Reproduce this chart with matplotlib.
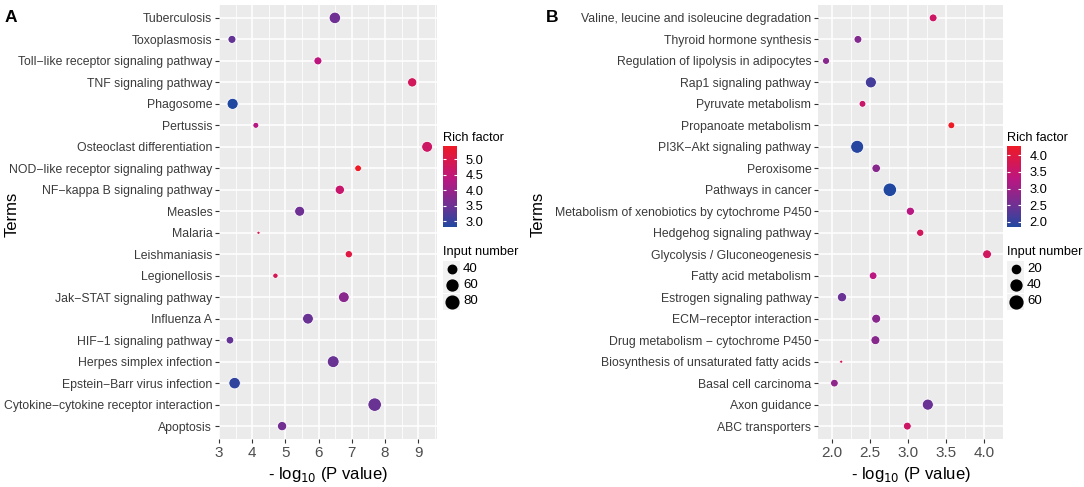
import numpy as np
import matplotlib
matplotlib.use("Agg")
import matplotlib.pyplot as plt
from matplotlib.colors import LinearSegmentedColormap, Normalize
from matplotlib.cm import ScalarMappable

plt.rcParams['font.family'] = ['Liberation Sans', 'DejaVu Sans']

# ---- data, panel A (top to bottom as shown) ----
termsA = ["Tuberculosis", "Toxoplasmosis", "Toll\u2212like receptor signaling pathway",
          "TNF signaling pathway", "Phagosome", "Pertussis", "Osteoclast differentiation",
          "NOD\u2212like receptor signaling pathway", "NF\u2212kappa B signaling pathway",
          "Measles", "Malaria", "Leishmaniasis", "Legionellosis", "Jak\u2212STAT signaling pathway",
          "Influenza A", "HIF\u22121 signaling pathway", "Herpes simplex infection",
          "Epstein\u2212Barr virus infection", "Cytokine\u2212cytokine receptor interaction",
          "Apoptosis"]
logpA = [6.49, 3.39, 5.98, 8.82, 3.41, 4.11, 9.27, 7.19, 6.64, 5.43,
         4.19, 6.91, 4.70, 6.76, 5.68, 3.33, 6.44, 3.47, 7.69, 4.90]
richA = [3.5, 3.4, 4.4, 4.8, 2.81, 4.3, 4.7, 5.42, 4.6, 3.5,
         4.9, 5.1, 4.9, 3.8, 3.45, 3.4, 3.45, 2.95, 3.45, 3.55]
countA = [66, 37, 37, 46, 62, 27, 60, 30, 46, 52,
          22, 33, 25, 59, 59, 35, 70, 66, 90, 46]

# ---- data, panel B ----
termsB = ["Valine, leucine and isoleucine degradation", "Thyroid hormone synthesis",
          "Regulation of lipolysis in adipocytes", "Rap1 signaling pathway",
          "Pyruvate metabolism", "Propanoate metabolism", "PI3K\u2212Akt signaling pathway",
          "Peroxisome", "Pathways in cancer", "Metabolism of xenobiotics by cytochrome P450",
          "Hedgehog signaling pathway", "Glycolysis / Gluconeogenesis", "Fatty acid metabolism",
          "Estrogen signaling pathway", "ECM\u2212receptor interaction",
          "Drug metabolism \u2212 cytochrome P450", "Biosynthesis of unsaturated fatty acids",
          "Basal cell carcinoma", "Axon guidance", "ABC transporters"]
logpB = [3.33, 2.34, 1.92, 2.51, 2.40, 3.57, 2.33, 2.58, 2.76, 3.03,
         3.16, 4.04, 2.54, 2.13, 2.58, 2.57, 2.12, 2.03, 3.26, 2.99]
richB = [3.6, 2.7, 2.75, 2.15, 3.55, 4.27, 1.9, 2.75, 1.85, 3.25,
         3.7, 3.65, 3.3, 2.45, 2.75, 2.75, 3.75, 2.85, 2.45, 3.6]
countB = [18, 18, 14, 42, 13, 13, 62, 22, 68, 20,
          15, 24, 17, 27, 25, 25, 5, 17, 42, 18]

breaksA_rich = [3.0, 3.5, 4.0, 4.5, 5.0]
breaksB_rich = [2.0, 2.5, 3.0, 3.5, 4.0]
breaksA_size = [40, 60, 80]
breaksB_size = [20, 40, 60]

W, H = 1084, 487
cmap = LinearSegmentedColormap.from_list(
    "rich", [(0, "#2148A0"), (0.25, "#6B3294"), (0.6, "#BC1680"), (1.0, "#EE1A26")])


def dot_area(n, counts, dmin=3.2, dmax=13.5):
    # ggplot-like area scale: diameter grows with sqrt of rescaled count
    n = np.asarray(n, dtype=float)
    lo, hi = min(counts), max(counts)
    t = np.clip((n - lo) / (hi - lo), 0, 1)
    d_px = dmin + (dmax - dmin) * np.sqrt(t)
    return (d_px * 72 / 100) ** 2


def fax(x0, y0, x1, y1):
    return [x0 / W, 1 - y1 / H, (x1 - x0) / W, (y1 - y0) / H]


def panel(rect, terms, logp, rich, counts, xticks, xminor, letter, letter_x, terms_x):
    ax = fig.add_axes(fax(*rect))
    ax.set_facecolor("#EBEBEB")
    n = len(terms)
    ypos = np.arange(n)[::-1]
    norm = Normalize(min(rich), max(rich))
    ax.scatter(logp, ypos, s=dot_area(counts, counts), c=rich, cmap=cmap, norm=norm,
               edgecolors="white", linewidths=0.6, zorder=3)
    ax.set_yticks(ypos)
    ax.set_yticklabels(terms, fontsize=8.8, color="#3A3A3A")
    ax.set_ylim(-0.6, n - 0.4)
    lo, hi = min(logp), max(logp)
    pad = (hi - lo) * 0.05
    ax.set_xlim(lo - pad, hi + pad)
    ax.set_xticks(xticks)
    ax.set_xticklabels([f"{v:g}" if letter == "A" else f"{v:.1f}" for v in xticks],
                       fontsize=11, color="#4D4D4D")
    ax.set_xticks(xminor, minor=True)
    ax.grid(True, which="major", color="white", linewidth=1.1, zorder=0)
    ax.grid(True, which="minor", axis="x", color="white", linewidth=0.55, zorder=0)
    ax.set_axisbelow(True)
    for sp in ax.spines.values():
        sp.set_visible(False)
    ax.tick_params(which="major", length=2.8, width=0.8, color="#333333", pad=2)
    ax.tick_params(which="minor", length=0)
    ax.set_xlabel(r"- log$_{10}$ (P value)", fontsize=12, color="black", labelpad=4)
    fig.text(terms_x / W, 1 - 214 / H, "Terms", fontsize=12, rotation=90,
             ha="center", va="center")
    fig.text(letter_x / W, 1 - 17 / H, letter, fontsize=12.5, fontweight="bold",
             ha="left", va="center")
    return ax, norm


def legends(x0, norm, breaks_rich, counts, breaks_size):
    fig.text(x0 / W, 1 - 138 / H, "Rich factor", fontsize=9.2, va="center", ha="left")
    cax = fig.add_axes(fax(x0, 146, x0 + 14, 227))
    cb = fig.colorbar(ScalarMappable(norm=norm, cmap=cmap), cax=cax)
    cb.outline.set_visible(False)
    cb.set_ticks(breaks_rich)
    cb.set_ticklabels([f"{b:.1f}" for b in breaks_rich])
    cax.yaxis.set_ticks_position("both")
    cax.tick_params(direction="in", length=2.5, width=0.8, color="white",
                    labelsize=9.3, labelcolor="black", pad=6, labelright=True, labelleft=False)
    fig.text(x0 / W, 1 - 252 / H, "Input number", fontsize=9.2, va="center", ha="left")
    lax = fig.add_axes(fax(x0, 260, x0 + 60, 310))
    lax.set_xlim(0, 60)
    lax.set_ylim(50, 0)
    lax.axis("off")
    for i, b in enumerate(breaks_size):
        yc = 8.5 + 16.5 * i
        lax.add_patch(plt.Rectangle((0, yc - 8), 17, 16, color="#F2F2F2", lw=0))
        lax.scatter([8.5], [yc], s=dot_area([b], counts), color="black", zorder=3)
        lax.text(20, yc, str(b), fontsize=9.5, va="center", ha="left")


fig = plt.figure(figsize=(W / 100, H / 100), dpi=100)

axA, normA = panel((219, 5, 437, 439), termsA, logpA, richA, countA,
                   [3, 4, 5, 6, 7, 8, 9], np.arange(3.5, 9.6, 1.0), "A", 5, 12)
legends(443, normA, breaksA_rich, countA, breaksA_size)

axB, normB = panel((818, 5, 1003, 439), termsB, logpB, richB, countB,
                   [2.0, 2.5, 3.0, 3.5, 4.0], np.arange(2.25, 4.3, 0.5), "B", 546, 538)
legends(1007, normB, breaksB_rich, countB, breaksB_size)

fig.savefig("out.png", dpi=100)
